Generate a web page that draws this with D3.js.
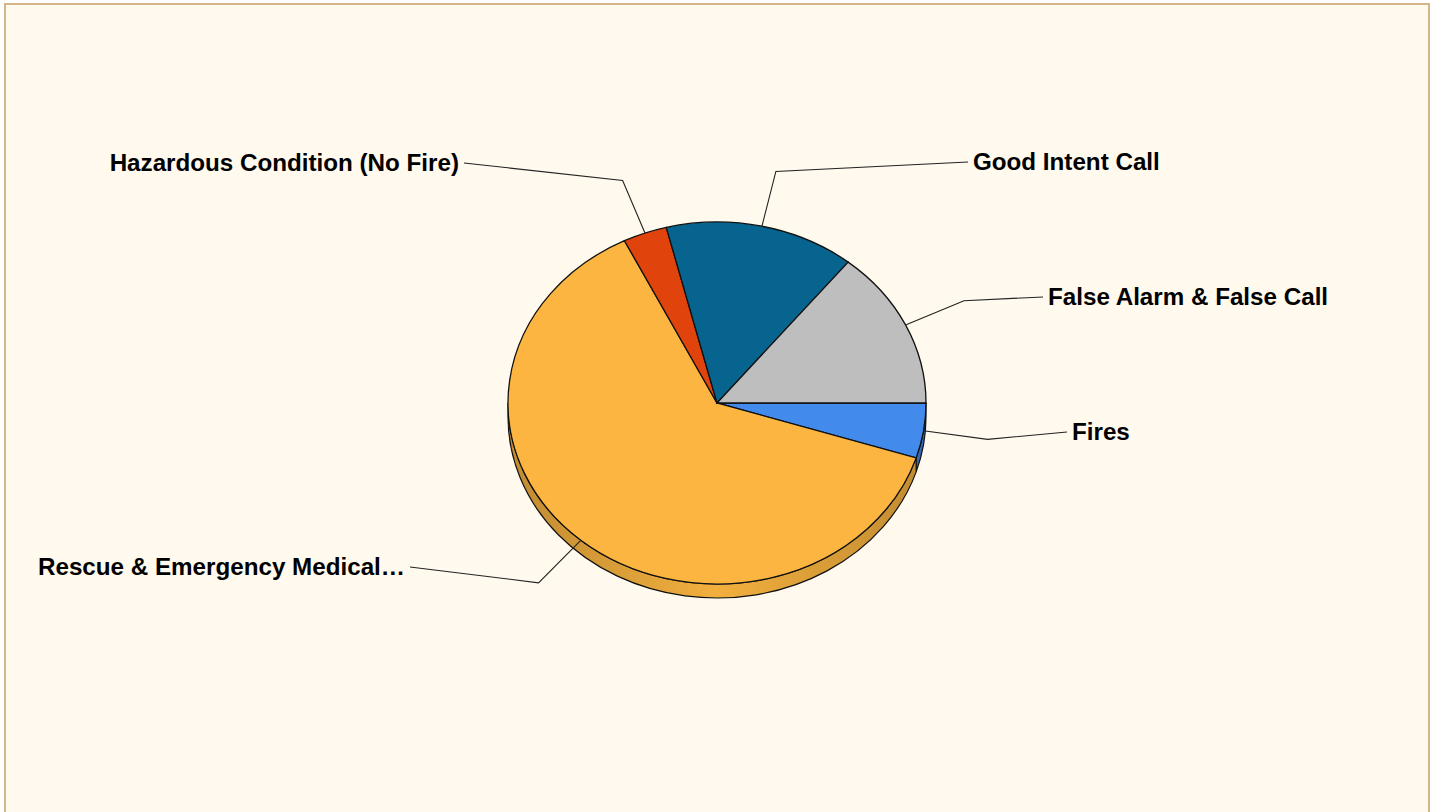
<!DOCTYPE html>
<html>
<head>
<meta charset="utf-8">
<script src="https://cdn.jsdelivr.net/npm/d3@7"></script>
<style>
  html, body { margin: 0; padding: 0; background: #fff; }
  svg { display: block; }
  .lbl { font-family: "Liberation Sans", Arial, sans-serif; font-weight: bold; font-size: 24.2px; fill: #000; }
</style>
</head>
<body>
<div id="chart"></div>
<script>
// slice data, clockwise from 3 o'clock
const categories = ["Fires", "Rescue & Emergency Medical…", "Hazardous Condition (No Fire)", "Good Intent Call", "False Alarm & False Call"];
const values = [4.9, 62.8, 3.4, 14.7, 14.2];
const colors = ["#428BED", "#FBB540", "#E0430B", "#06648F", "#BEBEBE"];

// where each label's connector ends, relative to pie centre
const labelEnds = [[350, 29], [-307, 164], [-253, -240], [251, -241], [326, -106]];

const W = 1434, H = 812;
const cx = 717, cy = 403, rx = 209, ry = 181, depth = 14;

const svg = d3.select("#chart").append("svg").attr("width", W).attr("height", H);

svg.append("rect")
    .attr("x", 5).attr("y", 4).attr("width", 1424).attr("height", H + 10)
    .attr("fill", "#FFF9EE").attr("stroke", "#D6B689").attr("stroke-width", 2);

const pie = d3.pie().sort(null).value(d => d.value)
    .startAngle(Math.PI / 2).endAngle(Math.PI / 2 + 2 * Math.PI);
const arcs = pie(categories.map((c, i) => ({ name: c, value: values[i], color: colors[i] })));

// d3 angle (from north, clockwise) -> point on ellipse
const pt = (a, k = 1, dy = 0) => [cx + rx * k * Math.sin(a), cy - ry * k * Math.cos(a) + dy];

const defs = svg.append("defs");

// 3D side walls (front half only)
const sideG = svg.append("g");
arcs.forEach((d, i) => {
    const a0 = Math.max(d.startAngle, Math.PI / 2);
    const a1 = Math.min(d.endAngle, 3 * Math.PI / 2);
    if (a1 <= a0) return;
    const base = d3.color(d.data.color);
    const grad = defs.append("linearGradient").attr("id", "side" + i)
        .attr("gradientUnits", "userSpaceOnUse")
        .attr("x1", cx - rx).attr("x2", cx + rx).attr("y1", 0).attr("y2", 0);
    grad.append("stop").attr("offset", 0).attr("stop-color", base.darker(0.75));
    grad.append("stop").attr("offset", 0.5).attr("stop-color", base.darker(0.1));
    grad.append("stop").attr("offset", 1).attr("stop-color", base.darker(0.75));
    const p0 = pt(a0), p1 = pt(a1), q1 = pt(a1, 1, depth), q0 = pt(a0, 1, depth);
    const path = `M${p0}A${rx},${ry} 0 0 1 ${p1}L${q1}A${rx},${ry} 0 0 0 ${q0}Z`;
    sideG.append("path").attr("d", path)
        .attr("fill", `url(#side${i})`).attr("stroke", "#111").attr("stroke-width", 1.2);
});

// top face
const arc = d3.arc().innerRadius(0).outerRadius(rx);
svg.append("g")
    .attr("transform", `translate(${cx},${cy}) scale(1,${ry / rx})`)
    .selectAll("path").data(arcs).join("path")
    .attr("d", arc)
    .attr("fill", d => d.data.color)
    .attr("stroke", "#111").attr("stroke-width", 1.3)
    .attr("vector-effect", "non-scaling-stroke");

// connectors + labels
const lab = svg.append("g");
arcs.forEach((d, i) => {
    const mid = (d.startAngle + d.endAngle) / 2;
    const e = pt(mid), k = pt(mid, 1.31);
    const end = [cx + labelEnds[i][0], cy + labelEnds[i][1]];
    lab.append("polyline").attr("points", [e, k, end].join(" "))
        .attr("fill", "none").attr("stroke", "#222").attr("stroke-width", 1.1);
    const right = end[0] > cx;
    lab.append("text").attr("class", "lbl")
        .attr("x", end[0] + (right ? 5 : -5)).attr("y", end[1])
        .attr("dy", "0.33em")
        .attr("text-anchor", right ? "start" : "end")
        .text(d.data.name);
});
</script>
</body>
</html>
